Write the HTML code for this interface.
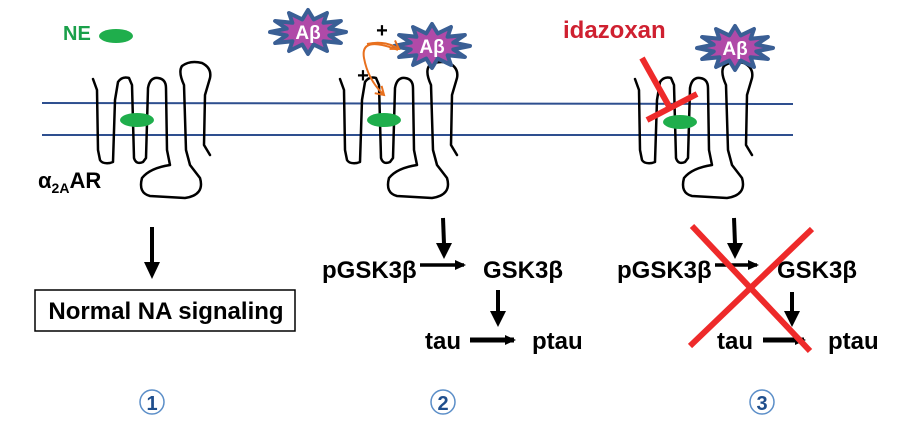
<!DOCTYPE html>
<html><head><meta charset="utf-8"><style>
html,body{margin:0;padding:0;background:#fff;}
svg{display:block;font-family:"Liberation Sans",sans-serif;}
</style></head><body>
<svg width="900" height="425" viewBox="0 0 900 425" xmlns="http://www.w3.org/2000/svg">
<defs>
<marker id="ah" markerWidth="12" markerHeight="12" refX="9" refY="6" orient="auto" markerUnits="userSpaceOnUse"><path d="M0,1 L11,6 L0,11 z" fill="#000"/></marker>
<marker id="ao" markerWidth="12" markerHeight="12" refX="9" refY="6" orient="auto" markerUnits="userSpaceOnUse"><path d="M1,1 L9,6 L1,11" fill="none" stroke="#e8701e" stroke-width="2"/></marker>
<g id="rec">
<path d="M93,79 L97,90 L98,150 L100,160 Q102,164 110,163 L113,162 L115,100 L118,82 Q122,76 129,78 L132,85 L134,158 Q136,165 143,162 L146,158 L148,88 Q150,77 158,78 Q166,79 166,88 L167,150 L170,165 Q150,168 142,178 Q138,193 150,196 L185,198 Q205,195 200,178 L190,165 L186,150 L184,85 Q178,72 182,66 Q190,60 202,63 Q212,68 210,78 L205,95 L204,145 L210,155" fill="none" stroke="#000" stroke-width="2.5" stroke-linejoin="round" stroke-linecap="round"/>
</g>
<g id="star">
<polygon points="38,0 21.3,3.4 32.9,11 15.6,9.2 19,19 5.7,12.6 0,22 -5.7,12.6 -19,19 -15.6,9.2 -32.9,11 -21.3,3.4 -38,0 -21.3,-3.4 -32.9,-11 -15.6,-9.2 -19,-19 -5.7,-12.6 0,-22 5.7,-12.6 19,-19 15.6,-9.2 32.9,-11 21.3,-3.4" fill="#b04aa8" stroke="#3a5f95" stroke-width="4" stroke-linejoin="round"/>
<text x="0" y="7" text-anchor="middle" font-size="19" font-weight="bold" fill="#fff">Aβ</text>
</g>
</defs>

<line x1="42" y1="103" x2="793" y2="104" stroke="#2e4f8f" stroke-width="2"/>
<line x1="42" y1="135" x2="793" y2="135" stroke="#2e4f8f" stroke-width="2"/>

<!-- panel 1 -->
<text x="63" y="40" font-size="20" font-weight="bold" fill="#1aa04a">NE</text>
<ellipse cx="116" cy="36" rx="17" ry="7" fill="#1fae4c"/>
<use href="#rec"/>
<ellipse cx="137" cy="120" rx="17" ry="7" fill="#1fae4c"/>
<text x="38" y="188" font-size="22" font-weight="bold">α<tspan font-size="14" dy="5">2A</tspan><tspan dy="-5">AR</tspan></text>
<line x1="152" y1="227" x2="152" y2="262" stroke="#000" stroke-width="4"/>
<polygon points="144,262 160,262 152,279" fill="#000"/>
<rect x="35" y="290" width="260" height="41" fill="none" stroke="#000" stroke-width="1.5"/>
<text x="166" y="319" text-anchor="middle" font-size="24" font-weight="bold">Normal NA signaling</text>
<circle cx="152" cy="402" r="12" fill="none" stroke="#5b8ec8" stroke-width="1.5"/>
<text x="152" y="410" text-anchor="middle" font-size="20" font-weight="bold" fill="#1f4e8c">1</text>

<!-- panel 2 -->
<use href="#star" transform="translate(308,32)"/>
<use href="#rec" transform="translate(247,0)"/>
<use href="#star" transform="translate(432,46)"/>
<ellipse cx="384" cy="120" rx="17" ry="7" fill="#1fae4c"/>
<text x="382" y="37" text-anchor="middle" font-size="20" font-weight="bold">+</text>
<text x="363" y="82" text-anchor="middle" font-size="20" font-weight="bold">+</text>
<path d="M398,50 Q360,35 364,58 Q368,80 384,95" fill="none" stroke="#e8701e" stroke-width="2" marker-end="url(#ao)"/>
<path d="M367,44 Q385,40 399,49" fill="none" stroke="#e8701e" stroke-width="2" marker-end="url(#ao)"/>
<line x1="443" y1="218" x2="444" y2="244" stroke="#000" stroke-width="4"/>
<polygon points="436,243 452,243 444,259" fill="#000"/>
<text x="322" y="278" font-size="24" font-weight="bold">pGSK3β</text>
<line x1="420" y1="265" x2="464" y2="265" stroke="#000" stroke-width="3.5" marker-end="url(#ah)"/>
<text x="483" y="278" font-size="24" font-weight="bold">GSK3β</text>
<line x1="498" y1="290" x2="498" y2="312" stroke="#000" stroke-width="4"/>
<polygon points="490,311 506,311 498,327" fill="#000"/>
<text x="425" y="349" font-size="24" font-weight="bold">tau</text>
<line x1="470" y1="340" x2="514" y2="340" stroke="#000" stroke-width="5" marker-end="url(#ah)"/>
<text x="532" y="349" font-size="24" font-weight="bold">ptau</text>
<circle cx="443" cy="402" r="12" fill="none" stroke="#5b8ec8" stroke-width="1.5"/>
<text x="443" y="410" text-anchor="middle" font-size="20" font-weight="bold" fill="#1f4e8c">2</text>

<!-- panel 3 -->
<text x="563" y="38" font-size="24" font-weight="bold" fill="#cf2030">idazoxan</text>
<use href="#rec" transform="translate(542,0)"/>
<use href="#star" transform="translate(735,48)"/>
<ellipse cx="680" cy="122" rx="17" ry="7" fill="#1fae4c"/>
<line x1="642" y1="58" x2="670" y2="108" stroke="#ee2a2a" stroke-width="6"/>
<line x1="647" y1="120" x2="697" y2="94" stroke="#ee2a2a" stroke-width="6"/>
<line x1="734" y1="218" x2="735" y2="244" stroke="#000" stroke-width="4"/>
<polygon points="727,243 743,243 735,259" fill="#000"/>
<text x="617" y="278" font-size="24" font-weight="bold">pGSK3β</text>
<line x1="715" y1="265" x2="757" y2="265" stroke="#000" stroke-width="3.5" marker-end="url(#ah)"/>
<text x="777" y="278" font-size="24" font-weight="bold">GSK3β</text>
<line x1="792" y1="292" x2="792" y2="312" stroke="#000" stroke-width="4"/>
<polygon points="784,311 800,311 792,327" fill="#000"/>
<text x="717" y="349" font-size="24" font-weight="bold">tau</text>
<line x1="763" y1="340" x2="804" y2="340" stroke="#000" stroke-width="5" marker-end="url(#ah)"/>
<text x="828" y="349" font-size="24" font-weight="bold">ptau</text>
<line x1="692" y1="226" x2="810" y2="351" stroke="#ee2a2a" stroke-width="6"/>
<line x1="812" y1="229" x2="690" y2="346" stroke="#ee2a2a" stroke-width="6"/>
<circle cx="762" cy="402" r="12" fill="none" stroke="#5b8ec8" stroke-width="1.5"/>
<text x="762" y="410" text-anchor="middle" font-size="20" font-weight="bold" fill="#1f4e8c">3</text>
</svg>
</body></html>
